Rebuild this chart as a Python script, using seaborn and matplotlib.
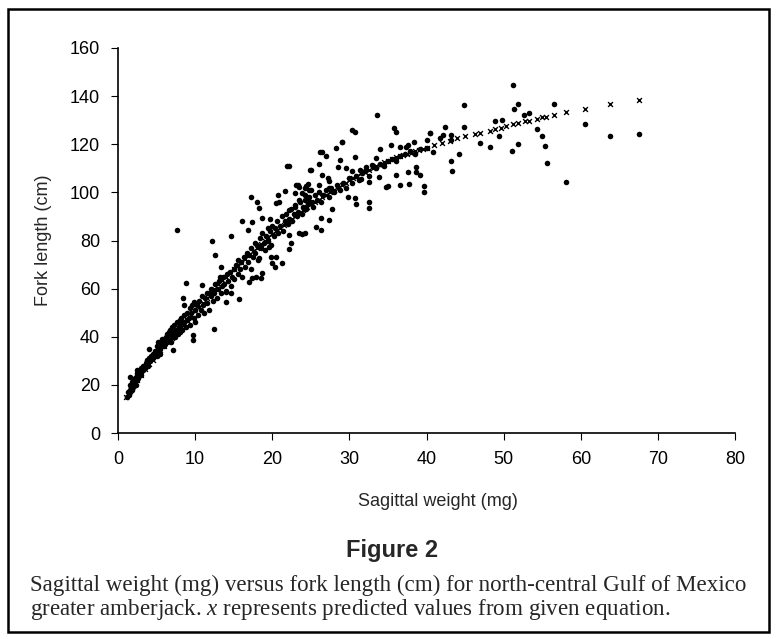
import matplotlib
matplotlib.use("Agg")
import matplotlib.pyplot as plt
import seaborn as sns
import pandas as pd
from matplotlib.patches import Rectangle

small_w = [1.2, 1.3, 1.4, 1.5, 1.5, 1.5, 1.6, 1.7, 1.8, 1.8,
           1.9, 2.0, 2.0, 2.1, 2.2, 2.3, 2.3, 2.4, 2.5, 2.5,
           2.5, 2.6, 2.7, 2.8, 2.9, 3.0, 3.0, 3.2, 3.3, 3.5,
           3.6, 3.8, 3.8, 3.9, 4.0, 4.0, 4.2, 4.3, 4.5, 4.6,
           4.8, 5.0, 5.0, 5.1, 5.2, 5.3, 5.4]
small_l = [15, 17, 16, 18, 20, 23.4, 17, 19, 21, 18,
           20, 22, 19, 21, 23, 20, 22, 24, 22, 25,
           26.2, 23, 24, 26, 25, 24, 27, 26, 28, 27,
           29, 30, 30.3, 28, 31, 34.9, 30, 32, 31, 33,
           34, 32, 36, 34, 38, 35, 33]

mid_w = [5.5, 5.6, 5.8, 5.9, 6.0, 6.1, 6.2, 6.3, 6.4, 6.5,
         6.6, 6.7, 6.8, 6.9, 7.0, 7.0, 7.1, 7.2, 7.3, 7.4,
         7.5, 7.6, 7.6, 7.8, 7.9, 8.0, 8.0, 8.1, 8.2, 8.3,
         8.4, 8.5, 8.6, 8.6, 8.8, 8.8, 9.0, 9.0, 9.2, 9.3,
         9.4, 9.5, 9.6, 9.7, 9.7, 9.8, 9.9, 10.0, 10.0, 5.7]
mid_l = [35, 37, 38, 36, 39, 37, 40, 38, 41, 39,
         42, 40, 43, 38, 41, 44, 34.5, 42, 45, 40,
         43, 84.4, 46, 41, 44, 47, 42, 45, 48, 43,
         56, 46, 53, 49, 62.5, 44, 47, 50, 48, 52,
         45, 50, 53, 40.7, 38.7, 48, 54.6, 51, 46, 39]

band1_w = [10.2, 10.4, 10.5, 10.7, 10.9, 11.0, 11.2, 11.3, 11.5, 11.6,
           11.8, 12.0, 12.1, 12.3, 12.5, 12.6, 12.8, 13.0, 13.1, 13.3,
           13.5, 13.6, 13.8, 14.0, 14.1, 14.3, 14.5, 14.6, 14.8, 15.0,
           15.1, 15.3, 15.5, 15.6, 15.8, 16.0, 16.1, 16.3, 16.5, 16.7,
           16.8, 17.0, 17.2, 17.3, 17.5, 17.7, 17.8, 18.0, 18.2, 18.4,
           18.5, 18.7, 18.9, 19.0, 19.2, 19.4, 19.5, 19.7, 19.9, 20.0]
band1_l = [53, 49, 55, 51, 57, 53, 50, 56, 58, 54,
           51, 57, 60, 55, 58, 62, 56, 60, 63, 58,
           61, 65, 62, 59, 66, 63, 67, 61, 65, 68,
           64, 70, 66, 72, 68, 71, 65, 73, 69, 75,
           71, 74, 68, 77, 73, 79, 75, 78, 72, 81,
           77, 83, 79, 76, 82, 85, 80, 84, 78, 86]

spread1_w = [12.2, 12.6, 14.7, 16.1, 17.4, 16.9, 17.2, 18.0, 18.3, 18.7,
             19.7, 20.7, 21.9, 21.7, 20.5, 20.9, 22.9, 22.2, 15.7, 14.6,
             14.0, 17.0, 17.4, 18.5, 18.7, 20.4, 20.0, 21.3, 20.5, 22.2,
             22.4, 13.3, 13.2, 10.9, 18.3, 19.6, 19.8, 12.5, 14.0, 17.9]
spread1_l = [79.9, 74, 81.9, 88.1, 87.8, 84.4, 98.2, 96.1, 93.6, 89.2,
             88.8, 98.9, 111, 100.7, 95.5, 96.1, 94.8, 92.7, 55.6, 58.1,
             58.7, 62.9, 64.3, 64.3, 66.4, 69.1, 70.5, 70.8, 73.3, 76.3,
             78.8, 69.1, 65.0, 61.5, 72.6, 77.4, 73.3, 43.1, 54.3, 65]

band2_w = [20.2, 20.4, 20.6, 20.8, 21.0, 21.2, 21.4, 21.6, 21.8, 22.0,
           22.2, 22.4, 22.6, 22.8, 23.0, 23.2, 23.4, 23.6, 23.8, 24.0,
           24.2, 24.4, 24.6, 24.8, 25.0, 25.3, 25.5, 25.8, 26.0, 26.3,
           26.6, 27.0, 27.3, 27.6, 28.0, 28.4, 28.8, 29.2, 29.6, 30.0]
band2_l = [82, 85, 88, 83, 86, 90, 84, 88, 91, 87,
           89, 93, 88, 91, 94, 90, 92, 96, 91, 94,
           97, 93, 95, 98, 96, 94, 99, 97, 100, 96,
           99, 101, 98, 102, 100, 103, 101, 104, 102, 106]

spread2_w = [33.6, 30.3, 30.7, 35.8, 36.1, 40.4, 40.0, 29.1, 28.3, 26.4,
             27.0, 35.4, 36.6, 37.4, 37.6, 38.4, 30.7, 28.8, 26.0, 34.0,
             33.5, 32.9, 32.2, 28.5, 25.0, 29.6, 30.4, 31.4, 38.6, 38.7,
             39.1, 37.6, 37.7, 39.7, 39.7, 36.6, 36.1, 34.8, 35.0, 33.9,
             32.6, 31.5, 30.7, 30.9, 32.6, 32.5, 29.8, 27.2, 27.4, 26.1,
             27.4, 26.5, 25.0, 24.6, 23.3, 24.2, 23.0, 23.5, 24.2, 24.5,
             22.2, 26.3, 27.4, 25.7, 26.3, 23.9, 22.2, 23.1, 23.5, 23.9,
             24.9, 24.4, 24.8, 27.8, 23.5, 24.3, 26.2, 29.0]
spread2_l = [132.3, 125.9, 125.0, 126.9, 125.2, 124.6, 121.8, 121.1, 118.6, 116.9,
             115.3, 119.7, 119.0, 118.7, 119.7, 121.1, 114.8, 113.5, 111.8, 117.9,
             114.4, 111.4, 110.7, 110.7, 109.3, 110.3, 109.0, 109.3, 110.4, 108.6,
             107.2, 108.6, 103.4, 102.8, 100.0, 103.1, 107.2, 102.4, 102.8, 106.5,
             104.5, 105.4, 97.5, 95.0, 96.1, 93.6, 98.2, 105.9, 104.7, 103.1,
             101.7, 107.2, 101.0, 103.4, 103.1, 102.0, 99.6, 96.8, 98.9, 96.4,
             111.0, 89.2, 88.5, 85.7, 84.4, 82.7, 82.3, 103.1, 102.4, 99.6,
             109.3, 102.7, 101.0, 93.0, 83.0, 83.3, 116.9, 121.1]

band3_w = [30.4, 30.8, 31.2, 31.6, 32.0, 32.5, 33.0, 33.5, 34.0, 34.5,
           35.0, 35.5, 36.0, 36.6, 37.2, 37.8, 38.5, 39.2, 40.0]
band3_l = [104, 107, 105, 108, 109, 107, 111, 110, 112, 111,
           113, 114, 113, 115, 116, 117, 116, 118, 118.5]

large_w = [51.2, 51.9, 51.3, 44.8, 44.8, 42.4, 40.4, 42.1, 41.7, 43.2,
           43.2, 43.2, 43.3, 44.2, 40.8, 47.0, 48.2, 48.9, 49.8, 49.4,
           51.1, 51.9, 52.7, 53.3, 54.3, 55.0, 55.4, 55.6, 56.5, 58.1,
           60.6, 63.8, 67.5]
large_l = [144.6, 136.6, 134.5, 136.3, 127.3, 127.1, 124.8, 123.9, 122.5, 123.9,
           121.8, 113.2, 108.9, 116.0, 116.9, 120.7, 118.7, 129.8, 130.1, 123.4,
           117.3, 120.0, 132.2, 133.1, 126.2, 123.4, 119.3, 112.3, 136.7, 104.3,
           128.6, 123.4, 124.3]

# predicted values ("x" marks)
pred_w = [1.0, 1.5, 2.0, 2.5, 3.0, 3.5, 4.0, 4.5, 5.0, 5.5,
          6.0, 6.5, 7.0, 7.5, 8.0, 8.5, 9.0, 9.5, 10.0, 10.5,
          11.0, 11.5, 12.0, 12.5, 13.0, 13.5, 14.0, 14.5, 15.0, 15.5,
          16.0, 16.5, 17.0, 17.5, 18.0, 18.5, 19.0, 19.5, 20.0, 20.5,
          21.0, 21.5, 22.0, 22.5, 23.0, 23.5, 24.0, 24.5, 25.0, 25.5,
          26.0, 26.5, 27.0, 27.5, 28.0, 28.5, 29.0, 29.5, 30.0, 30.5,
          31.0, 31.5, 32.0, 32.5, 33.0, 33.5, 34.0, 34.5, 35.0, 35.5,
          36.0, 36.5, 37.0, 37.5, 38.0, 38.5, 39.0, 39.5, 40.0, 41.0,
          42.0, 43.0, 44.0, 45.0, 46.3, 47.0, 48.2, 48.9, 49.7, 50.3,
          51.2, 51.9, 52.8, 53.3, 54.3, 55.0, 55.5, 56.5, 58.1, 60.6,
          63.8, 67.5]
pred_l = [15, 17.5, 19.5, 22, 24, 26.5, 28.5, 30.5, 32.5, 34.5,
          36, 38, 39.5, 41.5, 43, 45, 47, 49, 50.5, 52.5,
          54, 56, 58, 60, 62, 63.5, 65, 66.5, 68, 69.5,
          71, 72.5, 74, 75.5, 77, 78.5, 80, 81.5, 82.5, 84,
          85, 86.5, 87.5, 89, 90, 91.5, 92.5, 94, 95, 96,
          97, 98, 99, 100, 101, 102, 103, 104, 105, 106,
          107, 108, 108.5, 109.5, 110, 111, 111.5, 112.5, 113, 114,
          114.5, 115, 115.5, 116, 116.5, 117, 117.5, 118, 118.5, 119.5,
          120.5, 121.5, 122.5, 123.5, 124.3, 124.6, 125.6, 126.4, 126.9, 127.6,
          128.4, 129.0, 129.5, 129.8, 130.6, 131.2, 131.5, 132.0, 133.3, 134.8,
          136.6, 138.3]

x_ticks = [0, 10, 20, 30, 40, 50, 60, 70, 80]
y_ticks = [0, 20, 40, 60, 80, 100, 120, 140, 160]

caption = ['Sagittal weight (mg) versus fork length (cm) for north-central Gulf of Mexico',
           'greater amberjack. $x$ represents predicted values from given equation.']

obs = pd.DataFrame({
    'weight': small_w + mid_w + band1_w + spread1_w + band2_w + spread2_w + band3_w + large_w,
    'length': small_l + mid_l + band1_l + spread1_l + band2_l + spread2_l + band3_l + large_l,
})
pred = pd.DataFrame({'weight': pred_w, 'length': pred_l})

sns.set_style("ticks")
plt.rcParams['font.family'] = ['Liberation Sans', 'DejaVu Sans']
plt.rcParams['mathtext.fontset'] = 'custom'
plt.rcParams['mathtext.it'] = 'Liberation Serif:italic'
plt.rcParams['mathtext.rm'] = 'Liberation Serif'

W, H = 776, 639
fig = plt.figure(figsize=(W / 100, H / 100), dpi=100)
ax = fig.add_axes([118 / W, 1 - 433 / H, 617 / W, 385 / H])

sns.scatterplot(data=obs, x='weight', y='length', color='black', s=16,
                linewidth=0, ax=ax, legend=False, zorder=3)
sns.scatterplot(data=pred, x='weight', y='length', marker='x', color='black',
                s=12, linewidth=1.0, ax=ax, legend=False, zorder=4)

ax.set_xlim(0, 80)
ax.set_ylim(0, 160)
ax.set_xticks(x_ticks)
ax.set_yticks(y_ticks)
sns.despine(ax=ax)
for sp in ['left', 'bottom']:
    ax.spines[sp].set_linewidth(1.2)
    ax.spines[sp].set_color('black')
ax.tick_params(direction='out', length=5, width=0.8, labelsize=13,
               colors='black', pad=8)
ax.set_xlabel('')
ax.set_ylabel('')

fig.text(438 / W, 1 - 501 / H, 'Sagittal weight (mg)', ha='center', va='center', fontsize=13)
fig.text(43 / W, 1 - 240 / H, 'Fork length (cm)', ha='center', va='center',
         rotation=90, fontsize=13)
fig.text(392 / W, 1 - 550 / H, 'Figure 2', ha='center', va='center',
         fontsize=17, fontweight='bold')
serif = ['Liberation Serif', 'DejaVu Serif']
fig.text(30 / W, 1 - 585 / H, caption[0], ha='left', va='center', fontsize=16.6, family=serif)
fig.text(30 / W, 1 - 610 / H, caption[1], ha='left', va='center', fontsize=16.6, family=serif)

fig.patches.append(Rectangle((8 / W, 7 / H), 761 / W, 623 / H, transform=fig.transFigure,
                             fill=False, lw=1.8, ec='black'))

fig.savefig('out.png', dpi=100)
